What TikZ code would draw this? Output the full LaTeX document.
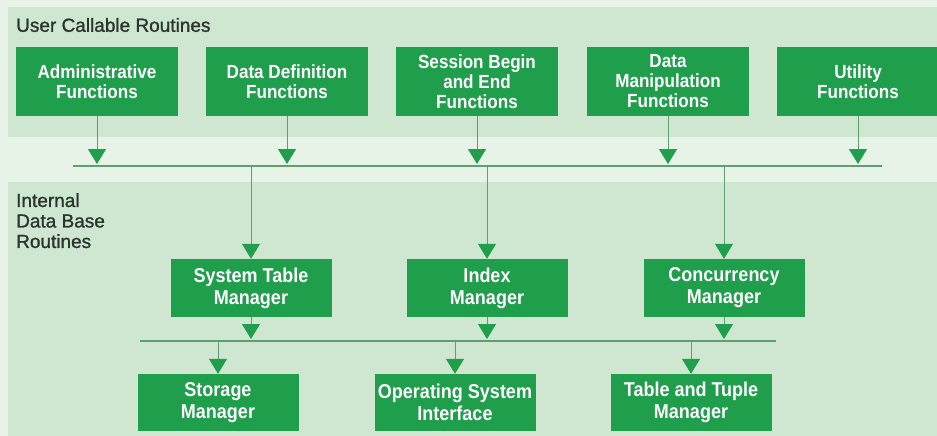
\documentclass[tikz,border=0pt]{standalone}
\usepackage{fontspec}
\setmainfont{Liberation Sans}
\newfontfamily\boxfont{Liberation Sans}[FakeStretch=0.9]
\newfontfamily\labelfont{Liberation Sans}[FakeBold=1.2]
\usetikzlibrary{arrows.meta}
\definecolor{boxgreen}{HTML}{1F9E4C}
\definecolor{lightbg}{HTML}{E7F3E6}
\definecolor{panelbg}{HTML}{CFE7D1}
\definecolor{linecol}{HTML}{5E9E70}
\definecolor{labeltext}{HTML}{2A352D}
\tikzset{
  topbox/.style={fill=boxgreen, text=white, minimum width=162pt, minimum height=69pt, inner sep=0pt, align=center,
    font=\boxfont\bfseries\fontsize{19}{20}\selectfont},
  lowbox/.style={fill=boxgreen, text=white, minimum width=161pt, minimum height=58pt, inner sep=0pt, align=center,
    font=\boxfont\bfseries\fontsize{20}{22}\selectfont},
  conn/.style={draw=linecol, line width=1pt, -{Triangle[width=18pt,length=15pt,color=boxgreen]}},
  bus/.style={draw=linecol, line width=1.2pt},
  grouplabel/.style={text=labeltext, inner sep=0pt, align=left, font=\labelfont\fontsize{19}{20.5}\selectfont}
}
\begin{document}
\begin{tikzpicture}[x=1pt,y=-1pt]
\useasboundingbox (0,0) rectangle (937,436);
% backgrounds
\fill[lightbg] (0,0) rectangle (937,436);
\fill[panelbg] (8,7) rectangle (937,137);
\fill[panelbg] (8,182) rectangle (937,436);
% group labels
\node[grouplabel, anchor=west] (ucr) at (16,25) {User Callable Routines};
\node[grouplabel, anchor=north west] (idr) at (16,193) {Internal\\Data Base\\Routines};
% top row
\node[topbox] (a1) at (97,81.5) {Administrative\\Functions};
\node[topbox] (a2) at (287,81.5) {Data Definition\\Functions};
\node[topbox] (a3) at (477,81.5) {Session Begin\\and End\\Functions};
\node[topbox] (a4) at (668,81.5) {Data\\Manipulation\\Functions};
\node[topbox] (a5) at (858,81.5) {Utility\\Functions};
% middle row
\node[lowbox] (m1) at (251,288) {System Table\\Manager};
\node[lowbox] (m2) at (487,288) {Index\\Manager};
\node[lowbox] (m3) at (724,288) {Concurrency\\Manager};
% bottom row
\node[lowbox, minimum height=57pt] (b1) at (218,402.5) {Storage\\Manager};
\node[lowbox, minimum height=57pt] (b2) at (455,402.5) {Operating System\\Interface};
\node[lowbox, minimum height=57pt] (b3) at (691,402.5) {Table and Tuple\\Manager};
% buses
\coordinate (bus1l) at (73,166);
\coordinate (bus1r) at (882,166);
\coordinate (bus2l) at (140,341);
\coordinate (bus2r) at (776,341);
\coordinate (bus1t) at (0,164);
\coordinate (bus2t) at (0,339);
\draw[bus] (bus1l) -- (bus1r);
\draw[bus] (bus2l) -- (bus2r);
% top arrows to bus 1
\foreach \n in {a1,a2,a3,a4,a5}{
  \draw[conn] (\n.south) -- (\n.south |- bus1t);
}
% bus 1 to middle boxes
\foreach \n in {m1,m2,m3}{
  \draw[conn] (\n.north |- bus1l) -- (\n.north);
  \draw[conn] (\n.south) -- (\n.south |- bus2t);
}
% bus 2 to bottom boxes
\foreach \n in {b1,b2,b3}{
  \draw[conn] (\n.north |- bus2l) -- (\n.north);
}
\end{tikzpicture}
\end{document}
